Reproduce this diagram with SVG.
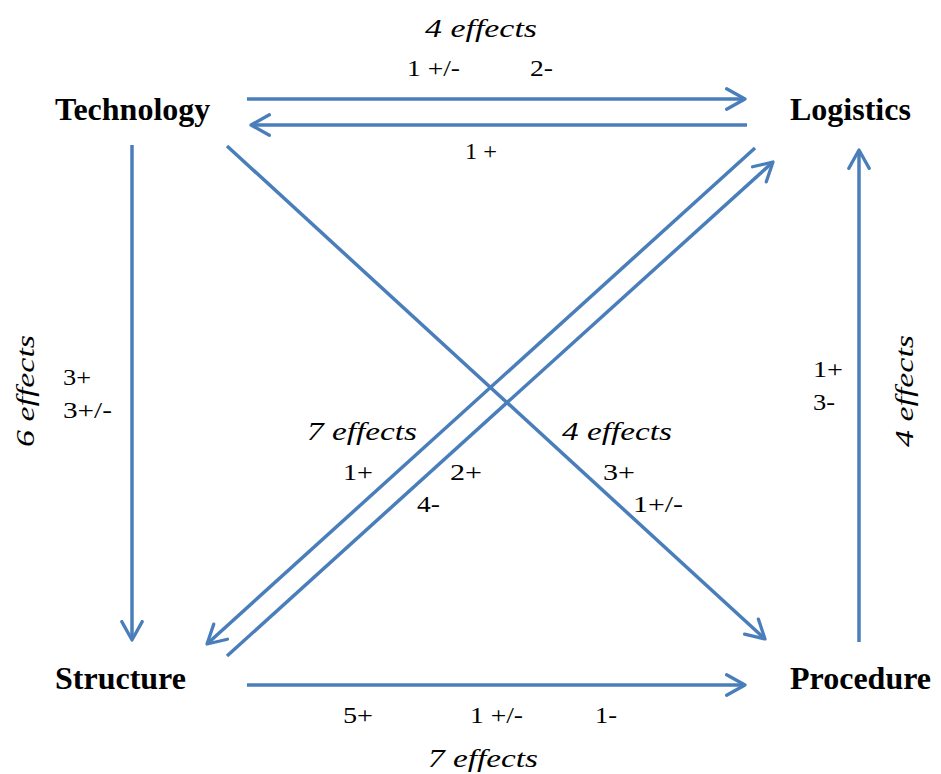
<svg xmlns="http://www.w3.org/2000/svg" width="941" height="774" viewBox="0 0 941 774">
<defs>
<marker id="ah" viewBox="0 0 12 12" refX="10" refY="6" markerWidth="7" markerHeight="7" markerUnits="strokeWidth" orient="auto">
<path d="M1,1 L10,6 L1,11" fill="none" stroke="#4a7ebb" stroke-width="1.6" stroke-linecap="round" stroke-linejoin="round"/>
</marker>
<style>
.e{stroke:#4a7ebb;stroke-width:3.5;fill:none;marker-end:url(#ah)}
.lbl{font-family:"Liberation Serif","Times New Roman",serif;font-weight:bold;font-size:32px;fill:#000}
.it{font-family:"Liberation Serif","Times New Roman",serif;font-style:italic;font-size:25px;fill:#000}
.s{font-family:"Liberation Serif","Times New Roman",serif;font-size:23px;fill:#000}
</style>
</defs>
<g id="connectors">
<line class="e" x1="247" y1="99" x2="745" y2="99"/>
<line class="e" x1="747" y1="125" x2="251" y2="125"/>
<line class="e" x1="132" y1="145" x2="132" y2="640"/>
<line class="e" x1="247" y1="685" x2="745" y2="685"/>
<line class="e" x1="859" y1="642" x2="859" y2="150"/>
<line class="e" x1="227" y1="146" x2="765" y2="639"/>
<line class="e" x1="755" y1="148" x2="207" y2="644"/>
<line class="e" x1="227" y1="656" x2="773" y2="162"/>
</g>
<g id="technology"><text class="lbl" x="55" y="120">Technology</text></g>
<g id="logistics"><text class="lbl" x="790" y="120">Logistics</text></g>
<g id="structure"><text class="lbl" x="55" y="689">Structure</text></g>
<g id="procedure"><text class="lbl" x="790" y="689">Procedure</text></g>
<g id="labels">
<text class="it" x="425" y="37" textLength="112" lengthAdjust="spacingAndGlyphs">4 effects</text>
<text class="s" x="407" y="76" textLength="53" lengthAdjust="spacingAndGlyphs">1 +/-</text>
<text class="s" x="530" y="76" textLength="23" lengthAdjust="spacingAndGlyphs">2-</text>
<text class="s" x="465" y="159" textLength="32" lengthAdjust="spacingAndGlyphs">1 +</text>
<text class="it" transform="translate(34,391) rotate(-90)" text-anchor="middle" textLength="112" lengthAdjust="spacingAndGlyphs">6 effects</text>
<text class="s" x="63" y="385" textLength="28" lengthAdjust="spacingAndGlyphs">3+</text>
<text class="s" x="63" y="418" textLength="49" lengthAdjust="spacingAndGlyphs">3+/-</text>
<text class="it" x="307" y="440" textLength="110" lengthAdjust="spacingAndGlyphs">7 effects</text>
<text class="s" x="343" y="480" textLength="30" lengthAdjust="spacingAndGlyphs">1+</text>
<text class="s" x="450" y="480" textLength="32" lengthAdjust="spacingAndGlyphs">2+</text>
<text class="s" x="417" y="512" textLength="23" lengthAdjust="spacingAndGlyphs">4-</text>
<text class="it" x="562" y="440" textLength="110" lengthAdjust="spacingAndGlyphs">4 effects</text>
<text class="s" x="603" y="480" textLength="32" lengthAdjust="spacingAndGlyphs">3+</text>
<text class="s" x="633" y="512" textLength="50" lengthAdjust="spacingAndGlyphs">1+/-</text>
<text class="s" x="813" y="377" textLength="30" lengthAdjust="spacingAndGlyphs">1+</text>
<text class="s" x="813" y="410" textLength="22" lengthAdjust="spacingAndGlyphs">3-</text>
<text class="it" transform="translate(913,391) rotate(-90)" text-anchor="middle" textLength="112" lengthAdjust="spacingAndGlyphs">4 effects</text>
<text class="s" x="343" y="723" textLength="30" lengthAdjust="spacingAndGlyphs">5+</text>
<text class="s" x="470" y="723" textLength="53" lengthAdjust="spacingAndGlyphs">1 +/-</text>
<text class="s" x="595" y="723" textLength="22" lengthAdjust="spacingAndGlyphs">1-</text>
<text class="it" x="428" y="767" textLength="110" lengthAdjust="spacingAndGlyphs">7 effects</text>
</g>
</svg>
